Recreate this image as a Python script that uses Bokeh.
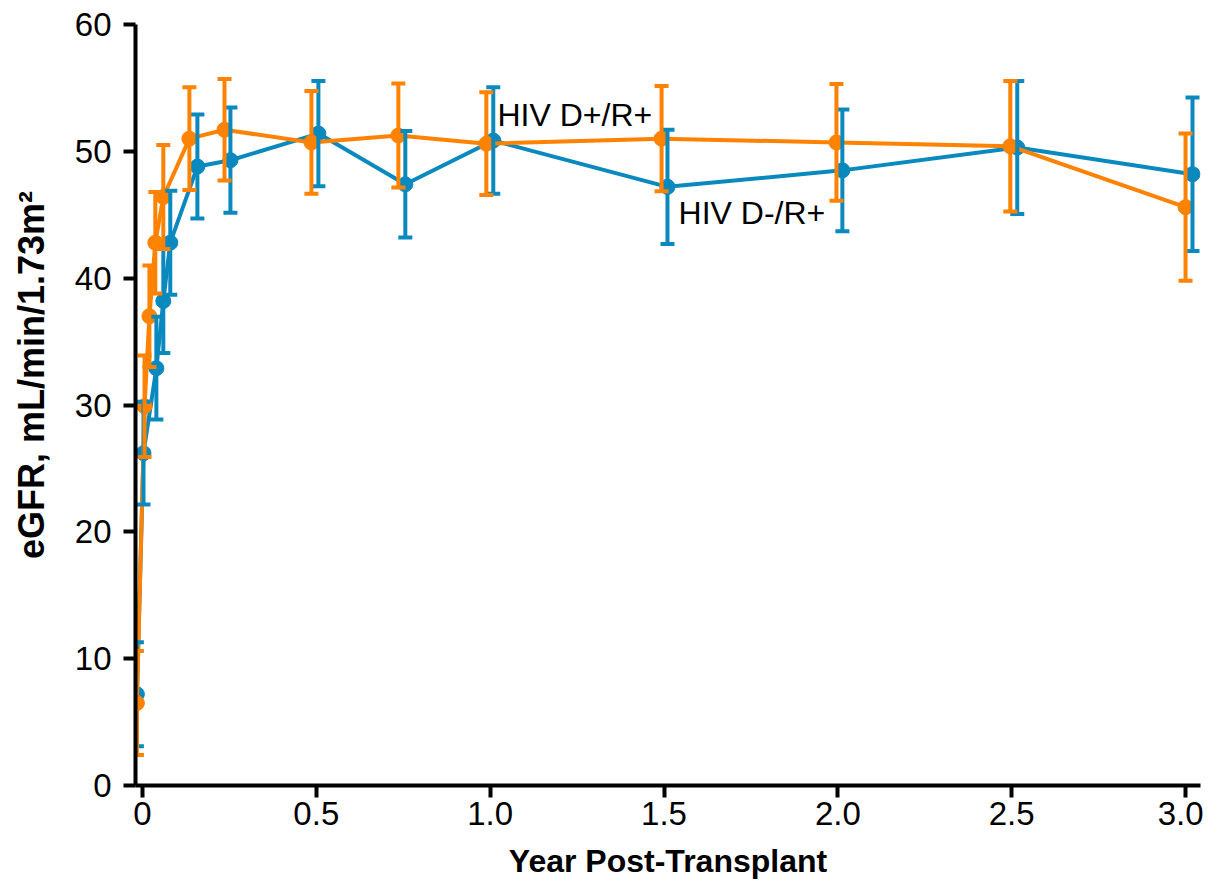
from bokeh.plotting import figure
from bokeh.models import ColumnDataSource, Whisker, TeeHead, FixedTicker, Range1d, Label
from bokeh.embed import file_html
from bokeh.resources import INLINE

# HIV D+/R+ (orange)
pos_x = [-0.016, 0.006, 0.02, 0.037, 0.06, 0.135, 0.236, 0.486, 0.736, 0.989, 1.493, 1.996, 2.496, 3.0]
pos_y = [6.5, 29.9, 37.0, 42.8, 46.4, 51.0, 51.7, 50.7, 51.25, 50.6, 51.0, 50.7, 50.4, 45.6]
pos_err = [4.1, 4.0, 4.0, 4.0, 4.1, 4.05, 4.0, 4.05, 4.1, 4.05, 4.15, 4.6, 5.15, 5.8]

# HIV D-/R+ (blue)
neg_x = [-0.016, 0.003, 0.04, 0.06, 0.08, 0.158, 0.253, 0.506, 0.756, 1.009, 1.51, 2.013, 2.516, 3.02]
neg_y = [7.2, 26.2, 32.9, 38.2, 42.8, 48.8, 49.3, 51.4, 47.4, 50.85, 47.2, 48.5, 50.3, 48.2]
neg_err = [4.1, 4.05, 4.05, 4.1, 4.1, 4.1, 4.15, 4.15, 4.2, 4.2, 4.5, 4.8, 5.25, 6.05]

x_ticks = [0, 0.5, 1.0, 1.5, 2.0, 2.5, 3.0]
x_tick_labels = ["0", "0.5", "1.0", "1.5", "2.0", "2.5", "3.0"]
y_ticks = [0, 10, 20, 30, 40, 50, 60]

x_title = "Year Post-Transplant"
y_title = "eGFR, mL/min/1.73m²"

ORANGE = "#FF8200"
BLUE = "#0A89BE"
FONT = "Liberation Sans"

p = figure(width=1203, height=890, output_backend="svg", toolbar_location=None,
           x_range=Range1d(-0.02, 3.043), y_range=Range1d(0, 60),
           min_border_left=135, min_border_right=3, min_border_top=24, min_border_bottom=105)
p.outline_line_color = None
p.grid.visible = False
p.background_fill_color = "white"
p.border_fill_color = "white"


def add_series(xs, ys, errs, color):
    src = ColumnDataSource(dict(x=xs, y=ys,
                                upper=[a + b for a, b in zip(ys, errs)],
                                lower=[a - b for a, b in zip(ys, errs)]))
    p.line("x", "y", source=src, line_color=color, line_width=4)
    w = Whisker(source=src, base="x", upper="upper", lower="lower", dimension="height",
                line_color=color, line_width=4, level="glyph",
                upper_head=TeeHead(size=14, line_color=color, line_width=4),
                lower_head=TeeHead(size=14, line_color=color, line_width=4))
    p.add_layout(w)
    p.scatter("x", "y", source=src, size=15, fill_color=color, line_color=color)


add_series(neg_x, neg_y, neg_err, BLUE)
add_series(pos_x, pos_y, pos_err, ORANGE)

p.add_layout(Label(x=1.021, y=52.9, text="HIV D+/R+", text_font=FONT, text_font_size="32px",
                   text_color="black", text_baseline="alphabetic"))
p.add_layout(Label(x=1.542, y=45.1, text="HIV D-/R+", text_font=FONT, text_font_size="32px",
                   text_color="black", text_baseline="alphabetic"))

for ax in (p.xaxis[0], p.yaxis[0]):
    ax.axis_line_width = 4
    ax.axis_line_color = "black"
    ax.major_tick_line_width = 4
    ax.major_tick_line_color = "black"
    ax.major_tick_in = 0
    ax.major_tick_out = 12
    ax.minor_tick_line_color = None
    ax.major_label_text_font = FONT
    ax.major_label_text_font_size = "33px"
    ax.major_label_text_color = "black"
    ax.axis_label_text_font = FONT
    ax.axis_label_text_font_style = "bold"
    ax.axis_label_text_color = "black"

p.xaxis.ticker = FixedTicker(ticks=x_ticks)
p.xaxis.major_label_overrides = {t: l for t, l in zip(x_ticks, x_tick_labels)}
p.xaxis.major_label_standoff = 4
p.xaxis.axis_label = x_title
p.xaxis.axis_label_text_font_size = "32px"
p.xaxis.axis_label_standoff = 15

p.yaxis.ticker = FixedTicker(ticks=y_ticks)
p.yaxis.major_label_standoff = 12
# leading no-break spaces shift the visible title upward, as in the reference
p.yaxis.axis_label = "\u00a0" * 6 + y_title
p.yaxis.axis_label_text_font_size = "36px"
p.yaxis.axis_label_standoff = 20

open("out.html", "w").write(file_html(p, INLINE))
